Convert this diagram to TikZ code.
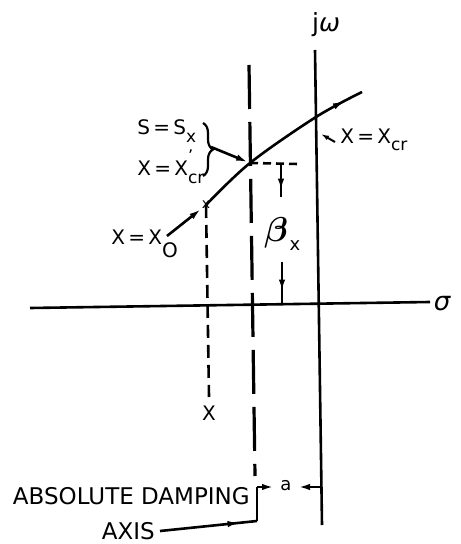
\documentclass[tikz,border=0pt]{standalone}
\usepackage{bm}
\usepackage{fontspec}
\setmainfont{DejaVu Sans}
\usetikzlibrary{arrows.meta,decorations.markings,decorations.pathreplacing}
\newcommand\lsub[1]{\raisebox{-0.7ex}{\fontsize{8.5}{9}\selectfont #1}}
\begin{document}
\begin{tikzpicture}[x=0.5pt,y=-0.5pt,line width=1.3pt,
  tip/.style={-{Latex[length=6pt,width=3.2pt]}},
  midarrow/.style={postaction={decorate},decoration={markings,mark=at position #1 with {\arrow{Latex[length=6pt,width=3.2pt]}}}},
  lbl/.style={inner sep=0pt,font=\fontsize{10}{12}\selectfont},
  big/.style={inner sep=0pt,font=\fontsize{11.5}{13}\selectfont},
  longdash/.style={dash pattern=on 22pt off 6.5pt},
  shortdash/.style={dash pattern=on 6.5pt off 3.5pt},
  tinydash/.style={dash pattern=on 4pt off 2.5pt}]
\useasboundingbox (0,0) rectangle (460,544);
\fill[white] (0,0) rectangle (460,544);

% axes
\coordinate (jwtop) at (315,50);
\coordinate (jwbot) at (322,525);
\draw (jwtop) -- (jwbot);
\coordinate (sl) at (30,308);
\coordinate (sr) at (430,302);
\draw (sl) -- (sr);
\node[inner sep=0pt,font=\fontsize{12.5}{15}\selectfont] (jw) at (326,25) {j\textit{ω}};
\node[inner sep=0pt,font=\fontsize{13}{15}\selectfont\itshape] (sig) at (442,304) {σ};

% key points
\coordinate (P0) at (206,205);
\coordinate (Px) at (250,163);
\coordinate (Pcr) at (316,117);
\coordinate (Pend) at (362,92);

% absolute damping axis (long dashes)
\coordinate (dtop) at (249,65);
\coordinate (dbot) at (255,476);
\draw[longdash,line width=1.6pt] (dtop) -- (dbot);

% dashed line below X0
\coordinate (xbot) at (209,397);
\draw[shortdash] (P0) -- (xbot);
\node[lbl] (xlab) at (209,413) {X};

% root locus curve
\draw[midarrow=0.9] plot[smooth,tension=0.55] coordinates {(P0) (Px) (Pcr) (Pend)};
\node[inner sep=0pt,font=\fontsize{7}{7}\selectfont] (p0mark) at (P0) {x};

% S = Sx, X = X'cr with brace
\node[lbl,anchor=west] (ssx) at (136,131) {S\,=\,S\lsub{x}};
\node[lbl,anchor=west] (xcr1) at (136,167) {X\,=\,X\rlap{\raisebox{1.3ex}{\fontsize{8}{9}\selectfont '}}\lsub{cr}};
\draw[decorate,decoration={brace,amplitude=5pt},line width=1.1pt] (203,123) -- (203,176);
\coordinate (btip) at (211,147);
\draw[tip,shorten >=1pt] (btip) -- (Px);

% X = X0
\node[lbl,anchor=west] (x0) at (110,244) {X\,=\,X\raisebox{-1.2ex}{\fontsize{10}{10}\selectfont O}};
\coordinate (a0) at (167,236);
\draw[tip] (a0) -- (201,209);

% X = Xcr
\node[lbl,anchor=west] (xcr2) at (339,140) {X\,=\,X\lsub{cr}};
\coordinate (h1) at (335,142);
\coordinate (h2) at (321,134);
\draw[-{Latex[length=4pt,width=2.5pt]},line width=1pt] (h1) -- (h2);

% beta_x dimension
\coordinate (bd) at (298,164);
\draw[tinydash] (Px) -- (bd);
\coordinate (u1) at (281,165);
\coordinate (u2) at (281,197);
\draw[midarrow=0.8] (u1) -- (u2);
\coordinate (l1) at (282,262);
\coordinate (l2) at (282,303);
\draw[midarrow=0.72] (l1) -- (l2);
\node[inner sep=0pt,font=\fontsize{18}{20}\selectfont] (beta) at (276,233) {$\bm{\beta}$};
\node[inner sep=0pt,font=\fontsize{9}{9}\selectfont] (betax) at (295,246) {x};

% bottom labels
\node[big,anchor=east] (abs) at (251,496) {ABSOLUTE DAMPING};
\node[big,anchor=east] (axis) at (156,531) {AXIS};
\coordinate (bA) at (257,521);
\coordinate (bB) at (257,487);
\draw[midarrow=0.82] ([xshift=2pt]axis.east) -- (bA);
\draw (bA) -- (bB);
\coordinate (aL) at (274,487);
\draw[tip] (bB) -- (aL);
\node[inner sep=0pt,font=\fontsize{9}{9}\selectfont] (alab) at (286,486) {a};
\coordinate (aR1) at (321,487);
\coordinate (aR2) at (298,487);
\draw[tip] (aR1) -- (aR2);
\end{tikzpicture}
\end{document}
